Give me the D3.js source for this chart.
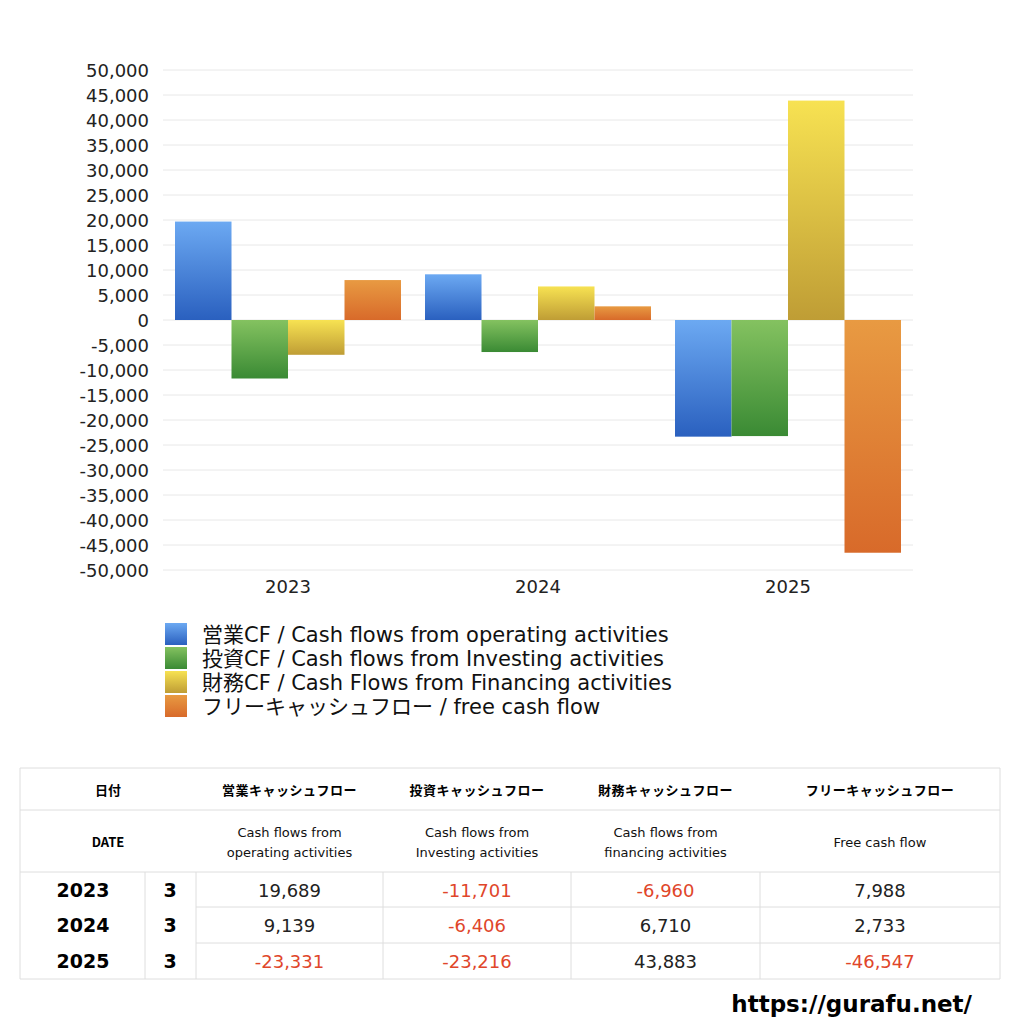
<!DOCTYPE html>
<html><head><meta charset="utf-8">
<script src="https://cdn.jsdelivr.net/npm/d3@7"></script>
<style>body{margin:0;background:#fff}</style></head>
<body><svg id="c" width="1024" height="1024"></svg>
<script>
const years = ["2023", "2024", "2025"];
const seriesNames = ["営業CF / Cash flows from operating activities", "投資CF / Cash flows from Investing activities", "財務CF / Cash Flows from Financing activities", "フリーキャッシュフロー / free cash flow"];
const operating = [19689, 9139, -23331];
const investing = [-11701, -6406, -23216];
const financing = [-6960, 6710, 43883];
const freeCF = [7988, 2733, -46547];
const months = [3, 3, 3];
const headJa = ["営業キャッシュフロー", "投資キャッシュフロー", "財務キャッシュフロー", "フリーキャッシュフロー"];
const headEn = [["Cash flows from", "operating activities"], ["Cash flows from", "Investing activities"], ["Cash flows from", "financing activities"], ["Free cash flow"]];
const series = [operating, investing, financing, freeCF];
const grads = [["#6ca9f2", "#2a60bf"], ["#84c260", "#3a8a34"], ["#f7e252", "#bf9d35"], ["#e89a42", "#d86a2a"]];
const font = "'Noto Sans CJK JP','Noto Sans',sans-serif";
const wide = "'DejaVu Sans','Noto Sans CJK JP',sans-serif";
const fmt = v => d3.format(",")(v).replace("\u2212", "-");

const svg = d3.select("#c").style("font-family", font);
const defs = svg.append("defs");
grads.forEach((g, i) => {
  const lg = defs.append("linearGradient").attr("id", "g" + i).attr("x1", 0).attr("y1", 0).attr("x2", 0).attr("y2", 1);
  lg.append("stop").attr("offset", "0%").attr("stop-color", g[0]);
  lg.append("stop").attr("offset", "100%").attr("stop-color", g[1]);
});

const x0 = d3.scaleBand().domain(years).range([163, 913]);
const x1 = d3.scaleBand().domain(d3.range(4)).range([12, 238]);
const y = d3.scaleLinear().domain([-50000, 50000]).range([570, 70]);
const ticks = d3.range(-50000, 50001, 5000);

svg.append("g").selectAll("line").data(ticks).join("line")
  .attr("x1", 163).attr("x2", 913).attr("y1", d => y(d)).attr("y2", d => y(d))
  .attr("stroke", "#e8e8e8");
svg.append("g").selectAll("text").data(ticks).join("text")
  .attr("x", 149).attr("y", d => y(d) + 7).attr("text-anchor", "end")
  .attr("font-size", 18).attr("font-family", wide).attr("fill", "#222").text(fmt);

years.forEach((yr, j) => {
  series.forEach((s, i) => {
    const v = s[j];
    svg.append("rect").attr("x", x0(yr) + x1(i)).attr("width", x1.bandwidth())
      .attr("y", y(Math.max(0, v))).attr("height", Math.abs(y(v) - y(0)))
      .attr("fill", `url(#g${i})`);
  });
  svg.append("text").attr("x", x0(yr) + x0.bandwidth() / 2).attr("y", 593)
    .attr("text-anchor", "middle").attr("font-size", 18).attr("font-family", wide).attr("fill", "#222").text(yr);
});

seriesNames.forEach((n, i) => {
  const yy = 623 + i * 24;
  svg.append("rect").attr("x", 165).attr("y", yy).attr("width", 22).attr("height", 22).attr("fill", `url(#g${i})`);
  svg.append("text").attr("x", 202).attr("y", yy + 19).attr("font-size", 21).attr("font-family", wide).attr("fill", "#111").text(n);
});

// table
const colX = [196, 383, 571, 760, 1000];
const rowY = [872, 907, 943, 979];
const line = (a, b, c, d) => svg.append("line").attr("x1", a).attr("y1", b).attr("x2", c).attr("y2", d).attr("stroke", "#dedede");
line(20, 768, 1000, 768); line(20, 810, 1000, 810); line(20, 872, 1000, 872); line(20, 979, 1000, 979);
line(20, 768, 20, 979); line(1000, 768, 1000, 979);
line(196, 907, 1000, 907); line(196, 943, 1000, 943);
[145, 196, 383, 571, 760].forEach(xx => line(xx, 872, xx, 979));

svg.append("text").attr("x", 108).attr("y", 795).attr("text-anchor", "middle").attr("font-size", 13).attr("font-weight", "bold").text("日付");
svg.append("text").attr("x", 108).attr("y", 847).attr("text-anchor", "middle").attr("font-size", 13).attr("font-weight", "bold").text("DATE");
headJa.forEach((h, i) => {
  const cx = (colX[i] + colX[i + 1]) / 2;
  svg.append("text").attr("x", cx).attr("y", 795).attr("text-anchor", "middle").attr("font-size", 13).attr("font-weight", "bold").attr("letter-spacing", 0.5).text(h);
  const en = headEn[i];
  en.forEach((t, k) => svg.append("text").attr("x", cx).attr("y", en.length === 1 ? 847 : 837 + k * 20)
    .attr("text-anchor", "middle").attr("font-size", 13).attr("fill", "#111").attr("font-family", wide).text(t));
});
years.forEach((yr, j) => {
  const cy = (rowY[j] + rowY[j + 1]) / 2 + 7;
  svg.append("text").attr("x", 83).attr("y", cy).attr("text-anchor", "middle").attr("font-size", 19).attr("font-weight", "bold").attr("font-family", wide).text(yr);
  svg.append("text").attr("x", 170).attr("y", cy).attr("text-anchor", "middle").attr("font-size", 19).attr("font-weight", "bold").attr("font-family", wide).text(months[j]);
  series.forEach((s, i) => {
    svg.append("text").attr("x", (colX[i] + colX[i + 1]) / 2).attr("y", cy).attr("text-anchor", "middle")
      .attr("font-size", 18).attr("font-family", wide).attr("fill", s[j] < 0 ? "#e0462a" : "#222").text(fmt(s[j]));
  });
});

svg.append("text").attr("x", 972).attr("y", 1012).attr("text-anchor", "end").attr("font-size", 23)
  .attr("font-weight", "bold").attr("font-family", "'DejaVu Sans',sans-serif").text("https://gurafu.net/");
</script></body></html>
